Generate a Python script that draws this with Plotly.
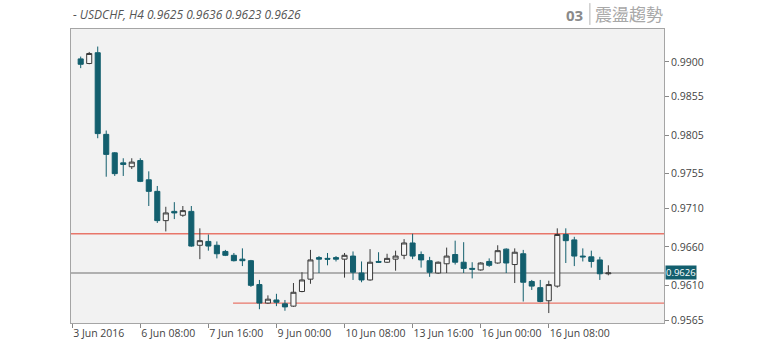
import plotly.graph_objects as go

# ---- data ----
bar_index = list(range(1, 64))
opens = [0.9904, 0.9898, 0.9912, 0.9806, 0.9782, 0.9769, 0.9764, 0.9772, 0.9747, 0.9732,
         0.9694, 0.9706, 0.9701, 0.9706, 0.9662, 0.9667, 0.9662, 0.9654, 0.9649, 0.9644,
         0.9642, 0.9611, 0.9587, 0.9591, 0.9586, 0.9583, 0.9602, 0.9618, 0.9646, 0.9645,
         0.9646, 0.9644, 0.9648, 0.9626, 0.9617, 0.9641, 0.9640, 0.9644, 0.9649, 0.9665,
         0.9650, 0.9642, 0.9626, 0.9638, 0.9650, 0.9640, 0.9632, 0.9630, 0.9641, 0.9639,
         0.9657, 0.9637, 0.9651, 0.9615, 0.9607, 0.9590, 0.9609, 0.9676, 0.9669, 0.9648,
         0.9647, 0.9643, 0.9625]
highs = [0.9907, 0.9913, 0.9920, 0.9811, 0.9783, 0.9775, 0.9775, 0.9775, 0.9758, 0.9739,
         0.9712, 0.9718, 0.9713, 0.9713, 0.9684, 0.9676, 0.9667, 0.9656, 0.9652, 0.9658,
         0.9643, 0.9617, 0.9597, 0.9599, 0.9591, 0.9613, 0.9627, 0.9656, 0.9648, 0.9652,
         0.9648, 0.9652, 0.9654, 0.9641, 0.9657, 0.9653, 0.9651, 0.9655, 0.9670, 0.9677,
         0.9654, 0.9647, 0.9641, 0.9659, 0.9668, 0.9666, 0.9640, 0.9640, 0.9645, 0.9662,
         0.9658, 0.9658, 0.9656, 0.9617, 0.9617, 0.9616, 0.9684, 0.9684, 0.9673, 0.9658,
         0.9655, 0.9647, 0.9636]
lows = [0.9892, 0.9897, 0.9801, 0.9751, 0.9752, 0.9752, 0.9761, 0.9744, 0.9713, 0.9691,
        0.9680, 0.9696, 0.9699, 0.9660, 0.9644, 0.9655, 0.9645, 0.9648, 0.9641, 0.9635,
        0.9608, 0.9579, 0.9586, 0.9583, 0.9577, 0.9582, 0.9601, 0.9612, 0.9626, 0.9636,
        0.9641, 0.9620, 0.9617, 0.9614, 0.9616, 0.9639, 0.9639, 0.9629, 0.9644, 0.9644,
        0.9633, 0.9621, 0.9625, 0.9626, 0.9637, 0.9626, 0.9619, 0.9629, 0.9634, 0.9638,
        0.9626, 0.9613, 0.9589, 0.9604, 0.9588, 0.9574, 0.9607, 0.9639, 0.9635, 0.9641,
        0.9633, 0.9617, 0.9623]
closes = [0.9897, 0.9911, 0.9807, 0.9780, 0.9755, 0.9767, 0.9770, 0.9745, 0.9732, 0.9694,
          0.9704, 0.9704, 0.9707, 0.9661, 0.9668, 0.9661, 0.9651, 0.9649, 0.9642, 0.9642,
          0.9610, 0.9587, 0.9592, 0.9588, 0.9582, 0.9601, 0.9617, 0.9643, 0.9644, 0.9644,
          0.9644, 0.9649, 0.9627, 0.9617, 0.9640, 0.9640, 0.9645, 0.9648, 0.9665, 0.9648,
          0.9643, 0.9627, 0.9640, 0.9648, 0.9640, 0.9632, 0.9631, 0.9639, 0.9636, 0.9655,
          0.9639, 0.9653, 0.9614, 0.9609, 0.9589, 0.9611, 0.9676, 0.9668, 0.9648, 0.9647,
          0.9641, 0.9625, 0.9626]

tick_pos = [0, 8, 16, 24, 32, 40, 48, 56]
tick_text = ["3 Jun 2016", "6 Jun 08:00", "7 Jun 16:00", "9 Jun 00:00",
             "10 Jun 08:00", "13 Jun 16:00", "16 Jun 00:00", "16 Jun 08:00"]
price_ticks = [0.9900, 0.9855, 0.9805, 0.9755, 0.9710, 0.9660, 0.9610, 0.9565]
price_tick_text = ["0.9900", "0.9855", "0.9805", "0.9755", "0.9710", "0.9660", "0.9610", "0.9565"]

resistance = 0.9677
support = 0.9587
support_start = 18.9
last_price = 0.9626
header_text = "- USDCHF, H4 0.9625 0.9636 0.9623 0.9626"

TEAL = "#135f6e"
FONT = "Open Sans"

fig = go.Figure()
fig.add_trace(go.Candlestick(
    x=bar_index, open=opens, high=highs, low=lows, close=closes,
    increasing=dict(line=dict(color="#3a3a3a", width=1), fillcolor="#f7f7f7"),
    decreasing=dict(line=dict(color=TEAL, width=1), fillcolor=TEAL),
    whiskerwidth=0, showlegend=False, hoverinfo="skip",
))

x_lo, x_hi = -0.14, 69.54
# horizontal levels
fig.add_shape(type="line", xref="x", yref="y", x0=x_lo, x1=x_hi, y0=last_price, y1=last_price,
              line=dict(color="#9a9a9a", width=1.3), layer="below")
fig.add_shape(type="line", xref="x", yref="y", x0=x_lo, x1=x_hi, y0=resistance, y1=resistance,
              line=dict(color="#e8766a", width=1.3), layer="below")
fig.add_shape(type="line", xref="x", yref="y", x0=support_start, x1=x_hi, y0=support, y1=support,
              line=dict(color="#e8766a", width=1.3), layer="below")

# current price tag
fig.add_annotation(xref="paper", yref="y", x=1.0, y=last_price, xanchor="left", yanchor="middle",
                   text="0.9626", showarrow=False, bgcolor=TEAL, borderpad=0,
                   font=dict(family=FONT, size=9.5, color="white"), xshift=1, yshift=1)

# header texts (paper units relative to the plot area 71..664 x 29..323)
fig.add_annotation(xref="paper", yref="paper", x=0.0, y=1.0, xanchor="left", yanchor="bottom",
                   text="<i>" + header_text + "</i>", showarrow=False, yshift=4,
                   font=dict(family=FONT, size=12, color="#555555"))
fig.add_annotation(xref="paper", yref="paper", x=0.8665, y=1.0, xanchor="right", yanchor="bottom",
                   text="<b>03</b>", showarrow=False, yshift=2,
                   font=dict(family=FONT, size=15, color="#8a8a8a"))
fig.add_shape(type="line", xref="paper", yref="paper", x0=0.875, x1=0.875, y0=1.014, y1=1.088,
              line=dict(color="#b5b5b5", width=1))
fig.add_annotation(xref="paper", yref="paper", x=0.881, y=1.0, xanchor="left", yanchor="bottom",
                   text="震盪趨勢", showarrow=False, yshift=1,
                   font=dict(family="Noto Sans CJK TC", size=17, color="#a8a8a8"))

fig.update_layout(
    width=766, height=363,
    margin=dict(l=71, r=102, t=29, b=40, autoexpand=False),
    paper_bgcolor="white", plot_bgcolor="#f2f2f2",
    boxgap=0.15, boxgroupgap=0.3,
    font=dict(family=FONT, size=10.5, color="#444444"),
    xaxis=dict(range=[x_lo, x_hi], rangeslider=dict(visible=False), showgrid=False, zeroline=False,
               tickmode="array", tickvals=tick_pos, ticktext=tick_text, tickangle=0,
               automargin=False,
               ticks="outside", ticklen=4, tickcolor="#888888", ticklabelposition="outside right",
               showline=True, linecolor="#a5a5a5", linewidth=1, mirror=True,
               tickfont=dict(family=FONT, size=10.5, color="#444444")),
    yaxis=dict(range=[0.95611, 0.99428], side="right", showgrid=False, zeroline=False,
               tickmode="array", tickvals=price_ticks, ticktext=price_tick_text,
               automargin=False,
               ticks="outside", ticklen=4, tickcolor="#888888",
               showline=True, linecolor="#a5a5a5", linewidth=1, mirror=True,
               tickfont=dict(family=FONT, size=10.5, color="#444444")),
)

# remove the browser's default 8px body margin so the figure sits at the page origin
fig.write_html("out.html", config={"displayModeBar": False},
               post_script="document.body.style.margin='0';")
